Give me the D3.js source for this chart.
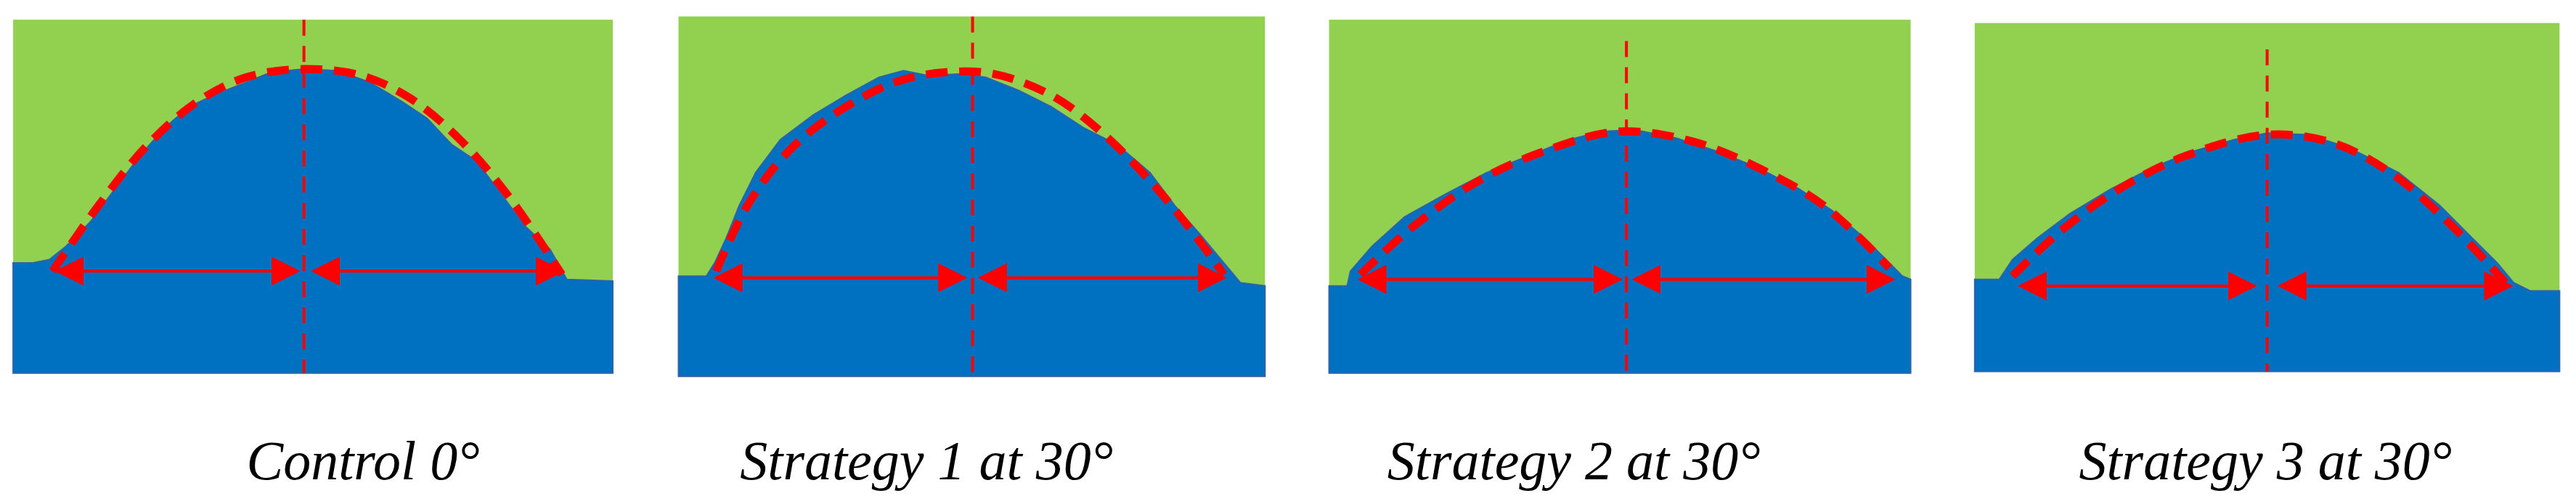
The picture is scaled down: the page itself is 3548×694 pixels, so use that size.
<!DOCTYPE html>
<html>
<head>
<meta charset="utf-8">
<script src="https://cdn.jsdelivr.net/npm/d3@7"></script>
<style>body{margin:0;background:#fff}</style>
</head>
<body>
<script>
// everything measured in the reference at 1568 px wide, scaled up below
var labels = ["Control 0°", "Strategy 1 at 30°", "Strategy 2 at 30°", "Strategy 3 at 30°"]
var labelX = [221, 564, 958, 1379]
var frames = [[8, 12, 373, 227], [413, 10, 770, 229], [809, 12, 1163, 227], [1202, 14, 1558, 226]]
var axisX = [185, 592, 990, 1380]
var axisTop = [12, 10, 25, 30]

var profile1 = [[8,160],[20,160],[30,158],[40,150],[55,135],[70,115],[85,95],[100,78],[115,65],[130,58],[150,50],[165,44],[185,42],[205,43],[225,50],[245,62],[260,72],[275,88],[290,98],[305,118],[320,138],[335,152],[345,170],[373,171]]
var profile2 = [[413,168],[430,168],[435,160],[442,145],[450,125],[460,105],[475,85],[495,70],[515,58],[535,47],[550,43],[565,46],[585,45],[600,47],[620,55],[640,65],[660,78],[680,88],[700,105],[715,125],[730,142],[745,160],[755,172],[770,174]]
var profile3 = [[809,174],[820,174],[822,165],[835,150],[855,132],[880,118],[905,105],[930,95],[955,85],[975,80],[995,79],[1020,84],[1045,92],[1070,102],[1095,115],[1115,128],[1135,145],[1150,160],[1158,168],[1163,170]]
var profile4 = [[1202,170],[1217,170],[1225,158],[1240,145],[1260,130],[1285,115],[1310,102],[1335,92],[1360,85],[1380,81],[1405,82],[1430,90],[1460,105],[1485,125],[1505,145],[1520,160],[1530,172],[1540,177],[1558,177]]

var fit1 = [[32,165],[60,125],[90,88],[120,62],[150,47],[185,42],[220,46],[250,60],[280,85],[310,120],[342,167]]
var fit2 = [[436,165],[455,125],[480,92],[510,68],[545,50],[575,44],[605,45],[640,58],[670,80],[700,110],[725,140],[745,167]]
var fit3 = [[828,167],[860,138],[900,110],[940,92],[985,80],[1030,86],[1070,102],[1110,125],[1150,163]]
var fit4 = [[1225,168],[1255,140],[1290,115],[1330,95],[1380,82],[1420,87],[1455,105],[1490,135],[1525,172]]

// arrow rows: y, left start, left end, right start, right end
var arrows = [[165,35,181,191,342],[169,436,587,597,745],[170,828,986,995,1152],[174,1230,1372,1388,1528]]

var profiles = [profile1, profile2, profile3, profile4]
var fits = [fit1, fit2, fit3, fit4]

var x = d3.scaleLinear().domain([0, 1568]).range([0, 3548])
var y = d3.scaleLinear().domain([0, 306.7]).range([0, 694])

var svg = d3.select("body").append("svg").attr("width", 3548).attr("height", 694)

var defs = svg.append("defs")
defs.append("marker").attr("id", "head")
    .attr("viewBox", "0 0 10 10").attr("refX", 9).attr("refY", 5)
    .attr("markerWidth", 6).attr("markerHeight", 6).attr("markerUnits", "userSpaceOnUse")
    .attr("orient", "auto-start-reverse")
    .append("path").attr("d", "M0,0L10,5L0,10z").attr("fill", "#ff0000")
defs.select("marker").attr("markerWidth", 40).attr("markerHeight", 40)

var line = d3.line().x(function(d){return x(d[0])}).y(function(d){return y(d[1])})
var smooth = d3.line().curve(d3.curveCatmullRom).x(function(d){return x(d[0])}).y(function(d){return y(d[1])})

frames.forEach(function(f, i)
{
  var g = svg.append("g")
  g.append("rect").attr("x", x(f[0])).attr("y", y(f[1]))
   .attr("width", x(f[2]) - x(f[0])).attr("height", y(f[3]) - y(f[1]))
   .attr("fill", "#92d050")

  var pts = profiles[i].concat([[f[2], f[3]], [f[0], f[3]]])
  g.append("path").attr("d", line(pts) + "Z").attr("fill", "#0070c0")
   .attr("stroke", "#2f62a8").attr("stroke-width", 2)

  g.append("path").attr("d", smooth(fits[i])).attr("fill", "none")
   .attr("stroke", "#ff0000").attr("stroke-width", 11).attr("stroke-dasharray", "30,16")

  g.append("line").attr("x1", x(axisX[i])).attr("x2", x(axisX[i]))
   .attr("y1", y(axisTop[i])).attr("y2", y(f[3]))
   .attr("stroke", "#ff0000").attr("stroke-width", 4).attr("stroke-dasharray", "22,14")

  var a = arrows[i]
  ;[[a[1], a[2]], [a[3], a[4]]].forEach(function(s)
  {
    g.append("line").attr("x1", x(s[0])).attr("x2", x(s[1]))
     .attr("y1", y(a[0])).attr("y2", y(a[0]))
     .attr("stroke", "#ff0000").attr("stroke-width", 4)
     .attr("marker-start", "url(#head)").attr("marker-end", "url(#head)")
  })

  svg.append("text").attr("x", x(labelX[i])).attr("y", 660)
   .attr("text-anchor", "middle")
   .attr("font-family", "'Liberation Serif', serif").attr("font-style", "italic")
   .attr("font-size", 76).attr("fill", "#000")
   .text(labels[i])
})
</script>
</body>
</html>
